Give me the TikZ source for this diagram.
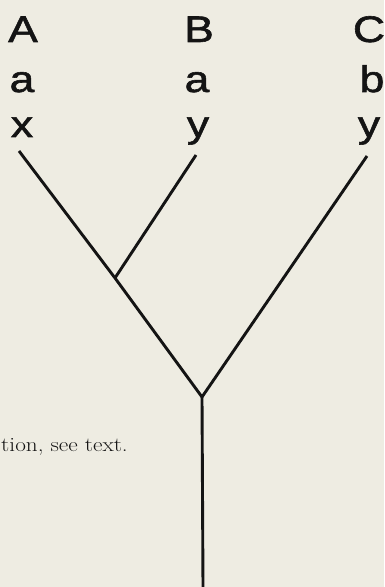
\documentclass[tikz,border=0pt]{standalone}
\usepackage{fontspec}
\newfontfamily\lblfont[FakeStretch=1.2,FakeBold=1.6]{Liberation Sans}
\newfontfamily\capfont[FakeStretch=1.15]{Latin Modern Roman}
\definecolor{paper}{RGB}{238,236,226}
\definecolor{ink}{RGB}{20,20,20}
\begin{document}
\begin{tikzpicture}[x=1pt,y=1pt,
  lbl/.style={anchor=base,inner sep=0pt,font=\lblfont\fontsize{37}{40}\selectfont,text=ink},
  branch/.style={line width=2.9pt,draw=ink,line join=miter,line cap=butt},
  caption/.style={anchor=base east,inner sep=0pt,font=\capfont\fontsize{20.2}{24}\selectfont,text=ink}]
\fill[paper] (0,0) rectangle (384,587);
\useasboundingbox (0,0) rectangle (384,587);
% labels
\node[lbl] (A1) at (23,545) {A};
\node[lbl] (A2) at (22,495) {a};
\node[lbl] (A3) at (22,450) {x};
\node[lbl] (B1) at (199,545) {B};
\node[lbl] (B2) at (197,495) {a};
\node[lbl] (B3) at (198,450) {y};
\node[lbl] (C1) at (369,545) {C};
\node[lbl] (C2) at (372,495) {b};
\node[lbl] (C3) at (369,450) {y};
% tree
\coordinate (ta) at (19,436);
\coordinate (tb) at (196,432);
\coordinate (tc) at (367,431);
\coordinate (j) at (115,309);
\coordinate (r) at (202,190);
\coordinate (bot) at (203,0);
\draw[branch] (ta) -- (j) -- (r) -- (tc);
\draw[branch] (tb) -- (j);
\draw[branch] (r) -- (bot);
\node[caption] (cap) at (128,135) {tion, see text.};
\end{tikzpicture}
\end{document}
